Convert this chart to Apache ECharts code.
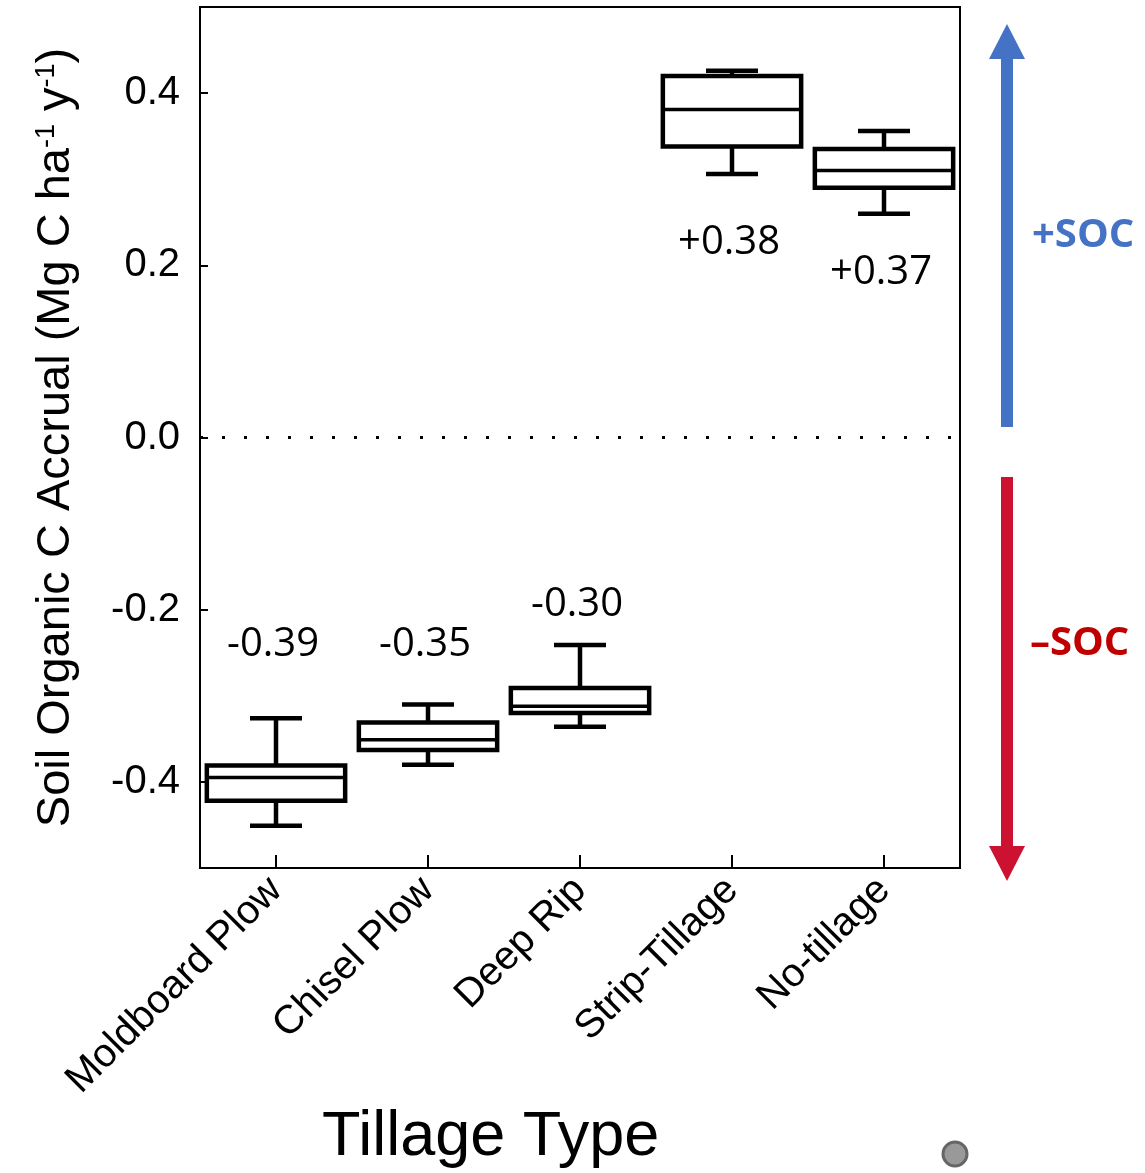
<!DOCTYPE html>
<html>
<head>
<meta charset="utf-8">
<script src="https://cdn.jsdelivr.net/npm/echarts@6/dist/echarts.min.js"></script>
<style>
  html, body { margin: 0; padding: 0; background: #fff; }
  #chart { width: 1145px; height: 1173px; }
</style>
</head>
<body>
<div id="chart"></div>
<script>
// tillage types on the x axis
const categories = ['Moldboard Plow', 'Chisel Plow', 'Deep Rip', 'Strip-Tillage', 'No-tillage']
// box statistics: [low whisker, q1, median, q3, high whisker]
const boxStats = [
  [-0.451, -0.422, -0.395, -0.381, -0.326],
  [-0.380, -0.363, -0.351, -0.331, -0.310],
  [-0.336, -0.320, -0.312, -0.291, -0.241],
  [0.306, 0.338, 0.381, 0.420, 0.426],
  [0.260, 0.290, 0.310, 0.335, 0.356]
]
// mean accrual shown as text, and the y value where that text sits
const meanLabels = ['-0.39', '-0.35', '-0.30', '+0.38', '+0.37']
const labelAt = [-0.240, -0.240, -0.194, 0.226, 0.192]
const yTicks = [-0.4, -0.2, 0, 0.2, 0.4]

const chart = echarts.init(document.getElementById('chart'))

const data = boxStats.map((s, i) => [i].concat(s).concat([labelAt[i]]))

function renderBox(params, api) {
  const x = api.value(0)
  const low = api.coord([x, api.value(1)])
  const q1 = api.coord([x, api.value(2)])
  const med = api.coord([x, api.value(3)])
  const q3 = api.coord([x, api.value(4)])
  const high = api.coord([x, api.value(5)])
  const txt = api.coord([x, api.value(6)])
  const band = api.size([1, 0])[0]
  const half = band * 0.455
  const cap = 26
  const cx = low[0]
  const line = { stroke: '#000', lineWidth: 4.5 }
  return {
    type: 'group',
    children: [
      { type: 'line', shape: { x1: cx, y1: high[1], x2: cx, y2: q3[1] }, style: line },
      { type: 'line', shape: { x1: cx, y1: q1[1], x2: cx, y2: low[1] }, style: line },
      { type: 'line', shape: { x1: cx - cap, y1: high[1], x2: cx + cap, y2: high[1] }, style: line },
      { type: 'line', shape: { x1: cx - cap, y1: low[1], x2: cx + cap, y2: low[1] }, style: line },
      {
        type: 'rect',
        shape: { x: cx - half, y: q3[1], width: half * 2, height: q1[1] - q3[1] },
        style: { fill: 'none', stroke: '#000', lineWidth: 4.5 }
      },
      { type: 'line', shape: { x1: cx - half, y1: med[1], x2: cx + half, y2: med[1] }, style: { stroke: '#000', lineWidth: 3.5 } },
      {
        type: 'text',
        x: txt[0] - 3,
        y: txt[1],
        style: {
          text: meanLabels[params.dataIndex],
          fill: '#000',
          font: '40px "Open Sans", sans-serif',
          align: 'center',
          verticalAlign: 'middle'
        }
      }
    ]
  }
}

const option = {
  animation: false,
  grid: {
    left: 200,
    top: 7,
    width: 760,
    height: 861,
    show: true,
    borderColor: '#000',
    borderWidth: 2
  },
  xAxis: {
    type: 'category',
    data: categories,
    axisLine: { show: true, onZero: false, lineStyle: { color: '#000', width: 2 } },
    axisTick: { show: true, inside: true, length: 13, alignWithLabel: true, lineStyle: { color: '#000', width: 2 } },
    axisLabel: { rotate: 45, fontSize: 40, color: '#000', margin: 16, fontFamily: 'Liberation Sans' },
    splitLine: { show: false }
  },
  yAxis: {
    type: 'value',
    min: -0.5,
    max: 0.5,
    name: '{a|Soil Organic C Accrual (Mg C ha}{s|-1}{a| y}{s|-1}{a|)}',
    nameLocation: 'middle',
    nameGap: 120,
    nameTextStyle: {
      rich: {
        a: { fontSize: 47, color: '#000', fontFamily: 'Liberation Sans' },
        s: { fontSize: 27, color: '#000', fontFamily: 'Liberation Sans', verticalAlign: 'top', padding: [0, 0, 20, 0] }
      }
    },
    axisLine: { show: true, lineStyle: { color: '#000', width: 2 } },
    axisTick: { show: true, inside: true, length: 8, customValues: yTicks, lineStyle: { color: '#000', width: 2 } },
    axisLabel: {
      customValues: yTicks,
      fontSize: 40,
      color: '#000',
      margin: 20,
      fontFamily: 'Liberation Sans',
      formatter: v => v.toFixed(1)
    },
    splitLine: { show: false }
  },
  series: [
    {
      type: 'custom',
      renderItem: renderBox,
      data: data,
      encode: { x: 0, y: [1, 5] }
    },
    {
      type: 'line',
      data: [],
      markLine: {
        silent: true,
        symbol: 'none',
        label: { show: false },
        lineStyle: { color: '#000', width: 3, type: [3, 19] },
        data: [{ yAxis: 0 }]
      }
    }
  ],
  graphic: [
    {
      type: 'text', top: 1106, left: 322,
      style: { text: 'Tillage Type', fill: '#000', font: '63px "Liberation Sans", Arial, sans-serif' }
    },
    // blue up arrow
    { type: 'rect', shape: { x: 1001, y: 58, width: 12, height: 369 }, style: { fill: '#4472C4' } },
    { type: 'polygon', shape: { points: [[989, 59], [1025, 59], [1007, 24]] }, style: { fill: '#4472C4' } },
    {
      type: 'text', left: 1032, top: 216,
      style: { text: '+SOC', fill: '#4472C4', font: 'bold 40px "Open Sans", sans-serif' }
    },
    // red down arrow
    { type: 'rect', shape: { x: 1001, y: 477, width: 12, height: 370 }, style: { fill: '#CC1230' } },
    { type: 'polygon', shape: { points: [[989, 846], [1025, 846], [1007, 881]] }, style: { fill: '#CC1230' } },
    {
      type: 'text', left: 1030, top: 624,
      style: { text: '\u2013SOC', fill: '#C00000', font: 'bold 40px "Open Sans", sans-serif' }
    },
    {
      type: 'circle', shape: { cx: 955, cy: 1154, r: 12 },
      style: { fill: '#999', stroke: '#666', lineWidth: 3 }
    }
  ]
}

chart.setOption(option)
</script>
</body>
</html>
